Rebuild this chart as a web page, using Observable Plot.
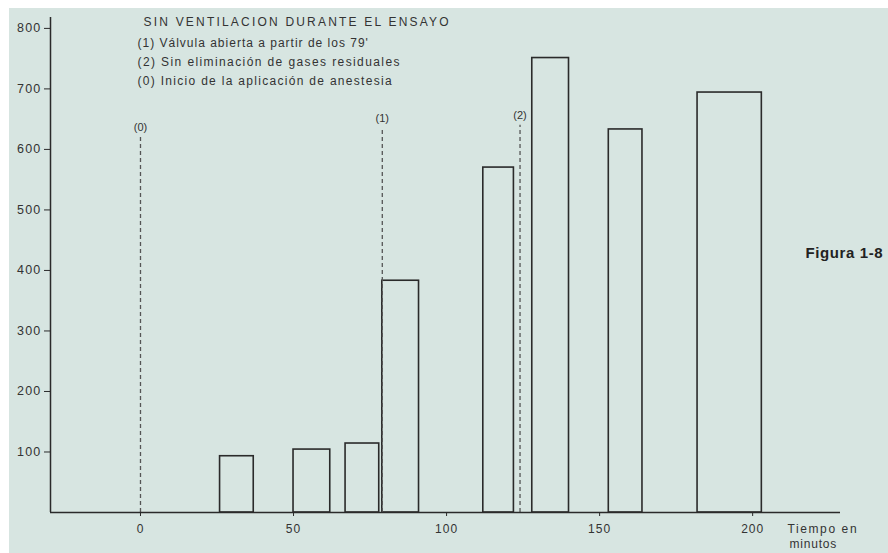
<!DOCTYPE html>
<html>
<head>
<meta charset="utf-8">
<script src="https://cdn.jsdelivr.net/npm/d3@7"></script>
<script src="https://cdn.jsdelivr.net/npm/@observablehq/plot@0.6"></script>
<style>
  html, body { margin: 0; padding: 0; background: #ffffff; }
  #chart { position: absolute; left: 9px; top: 8px; }
  #chart svg { display: block; }
  g[aria-label="y-axis tick label"] text { letter-spacing: 1.2px; }
  g[aria-label="x-axis tick label"] text { letter-spacing: 1px; }
</style>
</head>
<body>
<div id="chart"></div>
<script>
// ---- data ----
const barStart = [26, 50, 67, 79, 112, 128, 153, 182];   // minutes
const barEnd   = [37, 62, 78, 91, 122, 140, 164, 203];   // minutes
const barValue = [93, 104, 114, 383, 570, 751, 633, 694];

const markerX     = [0, 79, 124];
const markerTop   = [620, 635, 640];
const markerLabel = ["(0)", "(1)", "(2)"];

const xTicks = [0, 50, 100, 150, 200];
const yTicks = [100, 200, 300, 400, 500, 600, 700, 800];
const xDomain = [-29.4, 228.7];
const yDomain = [0, 818];

const titleText = "SIN VENTILACION DURANTE EL ENSAYO";
const noteLines = [
  "(1) Válvula abierta a partir de los 79'",
  "(2) Sin eliminación de gases residuales",
  "(0) Inicio de la aplicación de anestesia"
];
const figuraText = "Figura 1-8";
const xUnitLines = ["Tiempo en", "minutos"];

// ---- tables built from the arrays ----
const bars = barStart.map((s, i) => ({x1: s, x2: barEnd[i], v: barValue[i]}));
const markers = markerX.map((x, i) => ({x, top: markerTop[i], label: markerLabel[i]}));

const ink = "#2a2a2a";
const textInk = "#333333";

const noteDy = [26, 45, 64];
const unitPos = [[778, 512], [780, 527]];

const label = (str, opts) => Plot.text([str], {text: d => d, frameAnchor: "top-left", lineAnchor: "middle", textAnchor: "start", fill: textInk, ...opts});

const chart = Plot.plot({
  width: 879,
  height: 545,
  marginLeft: 41,
  marginRight: 48,
  marginTop: 9,
  marginBottom: 41,
  x: {domain: xDomain},
  y: {domain: yDomain},
  style: {background: "#d7e5e1", fontFamily: "'Liberation Sans', Arial, sans-serif", color: textInk},
  marks: [
    Plot.rect(bars, {x1: "x1", x2: "x2", y1: 0, y2: "v", fill: "none", stroke: ink, strokeWidth: 1.6}),
    Plot.ruleX(markers, {x: "x", y1: 0, y2: "top", stroke: "#555", strokeWidth: 1.3, strokeDasharray: "4,3"}),
    Plot.text(markers, {x: "x", y: "top", text: "label", dy: -10, fontSize: 11, fill: textInk}),
    Plot.ruleY([0], {stroke: ink, strokeWidth: 1.5}),
    Plot.ruleX([xDomain[0]], {y1: yDomain[0], y2: yDomain[1], stroke: ink, strokeWidth: 1.5}),
    Plot.axisY({ticks: yTicks, tickSize: 6, tickPadding: 3, fontSize: 12.5, label: null, stroke: ink}),
    Plot.axisX({ticks: xTicks, tickSize: 4, tickPadding: 8, fontSize: 12, label: null, stroke: ink}),
    label(titleText, {dx: 93, dy: 5, fontSize: 12}),
    ...noteLines.map((s, i) => label(s, {dx: 87, dy: noteDy[i], fontSize: 12})),
    label(figuraText, {dx: 755, dy: 236, fontSize: 15, fontWeight: "bold", fill: "#222"}),
    ...xUnitLines.map((s, i) => label(s, {dx: unitPos[i][0] - 41, dy: unitPos[i][1], fontSize: 12}))
  ]
});

// letter spacing of the scanned lettering
const spacing = new Map([
  [titleText, "2.2px"],
  [noteLines[0], "1.0px"],
  [noteLines[1], "1.4px"],
  [noteLines[2], "1.3px"],
  [figuraText, "0.6px"],
  [xUnitLines[0], "1.6px"],
  [xUnitLines[1], "0.8px"]
]);
d3.select(chart).selectAll("text").each(function() {
  const s = spacing.get(this.textContent);
  if (s) this.style.letterSpacing = s;
});

document.getElementById("chart").appendChild(chart);
</script>
</body>
</html>
